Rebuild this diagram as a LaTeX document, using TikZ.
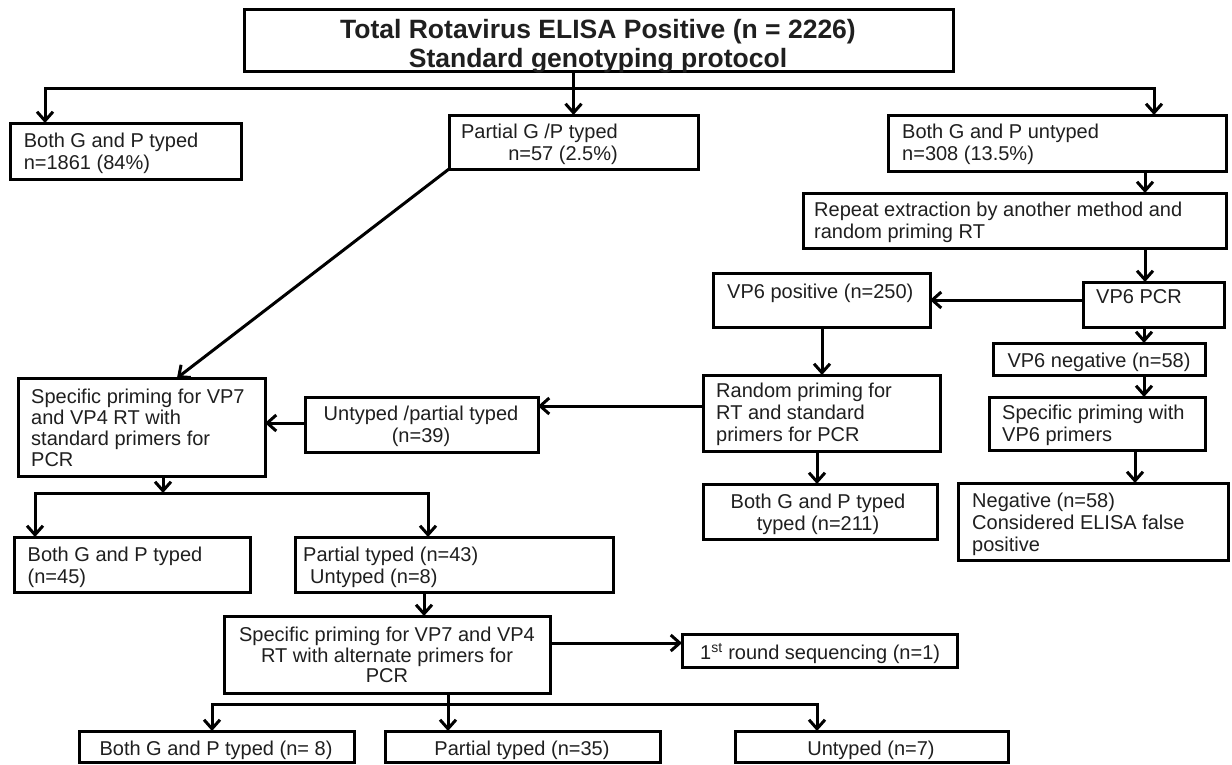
\documentclass[tikz,border=0pt]{standalone}
\usepackage{fontspec}
\setmainfont{Liberation Sans}
\usetikzlibrary{arrows.meta}
\newcommand\rbox[5]{\node[box, minimum width=#4-#2, minimum height=#5-#3] (#1) at (#2,#3) {};}
\begin{document}
\begin{tikzpicture}[x=1pt,y=-1pt,
  box/.style={draw=black, line width=3pt, inner sep=0pt, outer sep=0pt, anchor=north west},
  txt/.style={inner sep=0pt, font=\fontsize{20}{22}\selectfont, text=black!88},
  conn/.style={line width=3pt, line join=miter, -{Straight Barb[length=9pt,width=16pt]}},
  plain/.style={line width=3pt}]
\useasboundingbox[fill=white] (0,0) rectangle (1232,764);

% boxes
\rbox{A}{244}{9}{953}{71}
\rbox{B}{10}{123}{241}{179}
\rbox{C}{449}{115}{698}{169}
\rbox{D}{888}{115}{1226}{171}
\rbox{E}{803}{193}{1226}{248}
\rbox{F}{1083}{282}{1224}{327}
\rbox{G}{713}{273}{930}{327}
\rbox{H}{993}{343}{1205}{375}
\rbox{I}{989}{397}{1205}{450}
\rbox{J}{958}{483}{1228}{560}
\rbox{K}{703}{375}{940}{451}
\rbox{U}{703}{484}{937}{539}
\rbox{L}{305}{397}{538}{452}
\rbox{M}{18}{378}{265}{476}
\rbox{N}{14}{537}{250}{592}
\rbox{O}{295}{537}{613}{592}
\rbox{P}{224}{616}{550}{693}
\rbox{Q}{682}{634}{957}{667}
\rbox{R}{79}{731}{354}{762}
\rbox{S}{385}{731}{660}{762}
\rbox{T}{735}{731}{1008}{762}

% texts
\node[txt, font=\fontsize{26.5}{27}\selectfont\bfseries, align=center] (At) at (598,47.5)
  {\strut Total Rotavirus ELISA Positive (n = 2226)\\\strut Standard genotyping protocol};
\node[txt, anchor=west, align=left] (Bt) at (23.6,153.8)
  {\strut Both G and P typed\\\strut n=1861 (84\%)};
\node[txt, anchor=east, align=right] (Ct) at (618,145.3)
  {\strut Partial G /P typed\\\strut n=57 (2.5\%)};
\node[txt, anchor=west, align=left] (Dt) at (902,145.3)
  {\strut Both G and P untyped\\\strut n=308 (13.5\%)};
\node[txt, anchor=west, align=left] (Et) at (814,222.8)
  {\strut Repeat extraction by another method and\\\strut random priming RT};
\node[txt, anchor=west] (Ft) at (1096,298.8) {\strut VP6 PCR};
\node[txt, anchor=west] (Gt) at (727,293.8) {\strut VP6 positive (n=250)};
\node[txt] (Ht) at (1099,362.8) {\strut VP6 negative (n=58)};
\node[txt, anchor=west, align=left] (It) at (1002,425.8)
  {\strut Specific priming with\\\strut VP6 primers};
\node[txt, anchor=west, align=left] (Jt) at (972,524.8)
  {\strut Negative (n=58)\\\strut Considered ELISA false\\\strut positive};
\node[txt, anchor=west, align=left] (Kt) at (716,415.5)
  {\strut Random priming for\\\strut RT and standard\\\strut primers for PCR};
\node[txt, align=center] (Ut) at (818,514.8)
  {\strut Both G and P typed\\\strut typed (n=211)};
\node[txt, align=center] (Lt) at (421,426.8)
  {\strut Untyped /partial typed\\\strut (n=39)};
\node[txt, anchor=west, align=left, font=\fontsize{20}{21}\selectfont] (Mt) at (31,430.3)
  {\strut Specific priming for VP7\\\strut and VP4 RT with\\\strut standard primers for\\\strut PCR};
\node[txt, anchor=west, align=left] (Nt) at (27.5,567.8)
  {\strut Both G and P typed\\\strut (n=45)};
\node[txt, anchor=west, align=left] (Ot) at (303,567.8)
  {\strut Partial typed (n=43)\\\strut\hspace{7pt}Untyped (n=8)};
\node[txt, align=center, font=\fontsize{20}{20}\selectfont] (Pt) at (387,657.8)
  {\strut Specific priming for VP7 and VP4\\\strut RT with alternate primers for\\\strut PCR};
\node[txt, anchor=west] (Qt) at (700,654.8) {\strut 1\textsuperscript{st} round sequencing (n=1)};
\node[txt] (Rt) at (216,750.8) {\strut Both G and P typed (n= 8)};
\node[txt] (St) at (522,750.8) {\strut Partial typed (n=35)};
\node[txt] (Tt) at (871,750.8) {\strut Untyped (n=7)};

% connectors
\coordinate (hl) at (45,88);
\coordinate (hr) at (1154,88);
\draw[conn] (C.north |- A.south) -- (C.north);
\draw[conn] (hr) -- (hl) -- (hl |- B.north);
\draw[conn] (hl) -- (hr) -- (hr |- D.north);
\draw[conn] (1145,0 |- D.south) -- (1145,0 |- E.north);
\draw[conn] (1145,0 |- E.south) -- (1145,0 |- F.north);
\draw[conn] (F.west |- 0,300) -- (G.east |- 0,300);
\draw[conn] (1144,0 |- F.south) -- (1144,0 |- H.north);
\draw[conn] (1144,0 |- H.south) -- (1144,0 |- I.north);
\draw[conn] (1135,0 |- I.south) -- (1135,0 |- J.north);
\draw[conn] (822,0 |- G.south) -- (822,0 |- K.north);
\draw[conn] (817,0 |- K.south) -- (817,0 |- U.north);
\draw[conn] (K.west |- 0,406) -- (L.east |- 0,406);
\draw[conn] (L.west |- 0,423) -- (M.east |- 0,423);
\draw[conn] (C.south west) -- (177,0 |- M.north);
\coordinate (ml) at (35,493);
\coordinate (mr) at (428,493);
\draw[conn] (163,0 |- M.south) -- (163,493);
\draw[conn] (mr) -- (ml) -- (ml |- N.north);
\draw[conn] (ml) -- (mr) -- (mr |- O.north);
\draw[conn] (424,0 |- O.south) -- (424,0 |- P.north);
\draw[conn] (P.east |- 0,643) -- (Q.west |- 0,643);
\coordinate (bl) at (212,704);
\coordinate (br) at (817,704);
\draw[conn] (448,0 |- P.south) -- (448,0 |- S.north);
\draw[conn] (br) -- (bl) -- (bl |- R.north);
\draw[conn] (bl) -- (br) -- (br |- T.north);
\end{tikzpicture}
\end{document}
